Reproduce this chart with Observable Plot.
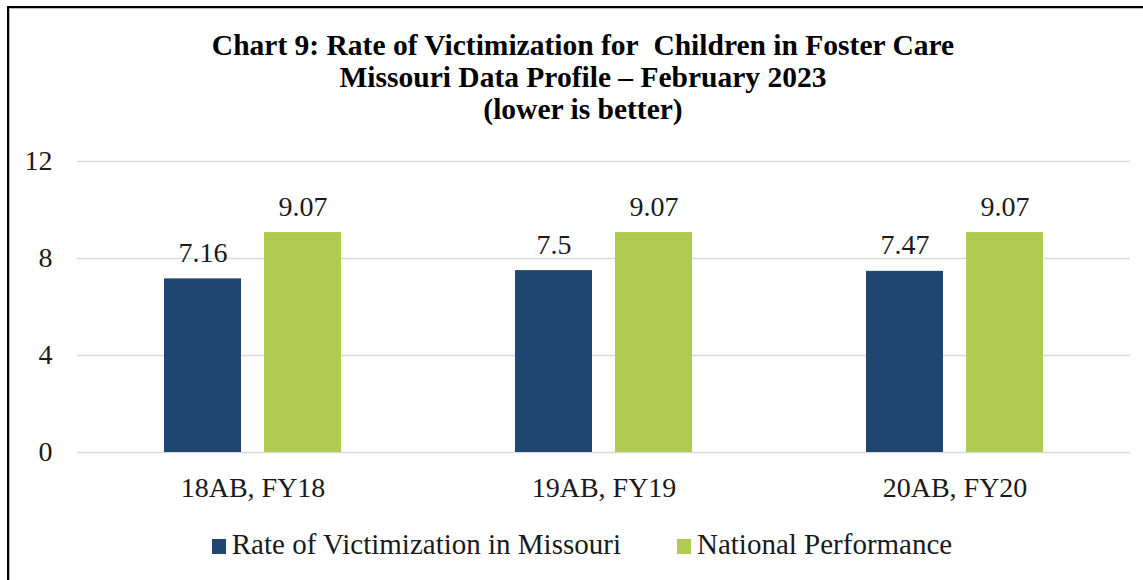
<!DOCTYPE html>
<html>
<head>
<meta charset="utf-8">
<script src="https://cdn.jsdelivr.net/npm/d3@7"></script>
<script src="https://cdn.jsdelivr.net/npm/@observablehq/plot@0.6"></script>
<style>
  html, body { margin: 0; padding: 0; background: #fff; overflow: hidden; width: 1143px; height: 580px; }
  #frame { position: absolute; left: 7px; top: 6px; width: 2000px; height: 2000px;
           border-top: 2px solid #000; border-left: 2px solid #000; box-shadow: inset 1px 1px 0 #bbb; }
  #title { position: absolute; left: 0; top: 29px; width: 1166px; text-align: center;
           font: bold 29.5px "Liberation Serif", "Times New Roman", serif; line-height: 32px; color: #000; }
  #chart { position: absolute; left: 0; top: 130px; }
  #legend { position: absolute; left: 0; top: 529px; width: 1164px; display: flex; justify-content: center; gap: 56px;
            font: 29px "Liberation Serif", "Times New Roman", serif; line-height: 31px; color: #1a1a1a; }
  .item { display: flex; align-items: center; }
  .sw { width: 14px; height: 15px; margin-right: 6px; margin-top: 4px; }
</style>
</head>
<body>
<div id="frame"></div>
<div id="title">Chart 9: Rate of Victimization for&nbsp; Children in Foster Care<br>Missouri Data Profile – February 2023<br>(lower is better)</div>
<div id="chart"></div>
<div id="legend"></div>
<script>
const categories = ["18AB, FY18", "19AB, FY19", "20AB, FY20"];
const series = ["Rate of Victimization in Missouri", "National Performance"];
const missouri = [7.16, 7.5, 7.47];
const national = [9.07, 9.07, 9.07];
const yTicks = [0, 4, 8, 12];
const colors = ["#1F4571", "#B0CC50"];

const data = categories.flatMap((c, i) => [
  {category: c, series: series[0], value: missouri[i]},
  {category: c, series: series[1], value: national[i]}
]);

const chart = Plot.plot({
  width: 1143,
  height: 382,
  marginTop: 31,
  marginBottom: 60,
  marginLeft: 77,
  marginRight: 13,
  style: {fontFamily: "'Liberation Serif', 'Times New Roman', serif", fontSize: "28px", color: "#1a1a1a", background: "transparent", overflow: "visible"},
  fx: {domain: categories, padding: 0, label: null, axis: "bottom", tickSize: 0, tickPadding: 25, fontSize: 28.5},
  x: {domain: series, paddingInner: 0.23, paddingOuter: 0.87, axis: null},
  y: {domain: [0, 12], ticks: yTicks, label: null, tickSize: 0, tickPadding: 25},
  color: {domain: series, range: colors},
  marks: [
    Plot.ruleY(yTicks, {stroke: "#d9d9d9", strokeWidth: 1.5}),
    Plot.barY(data, {fx: "category", x: "series", y: "value", fill: "series"}),
    Plot.text(data, {fx: "category", x: "series", y: "value", text: d => String(d.value),
      dy: -17, lineAnchor: "bottom", fontSize: 28, fill: "#1a1a1a"})
  ]
});
document.getElementById("chart").appendChild(chart);

const legend = document.getElementById("legend");
series.forEach((s, i) => {
  const item = document.createElement("div");
  item.className = "item";
  const sw = document.createElement("div");
  sw.className = "sw";
  sw.style.background = colors[i];
  const label = document.createElement("span");
  label.textContent = s;
  item.appendChild(sw);
  item.appendChild(label);
  legend.appendChild(item);
});
</script>
</body>
</html>
